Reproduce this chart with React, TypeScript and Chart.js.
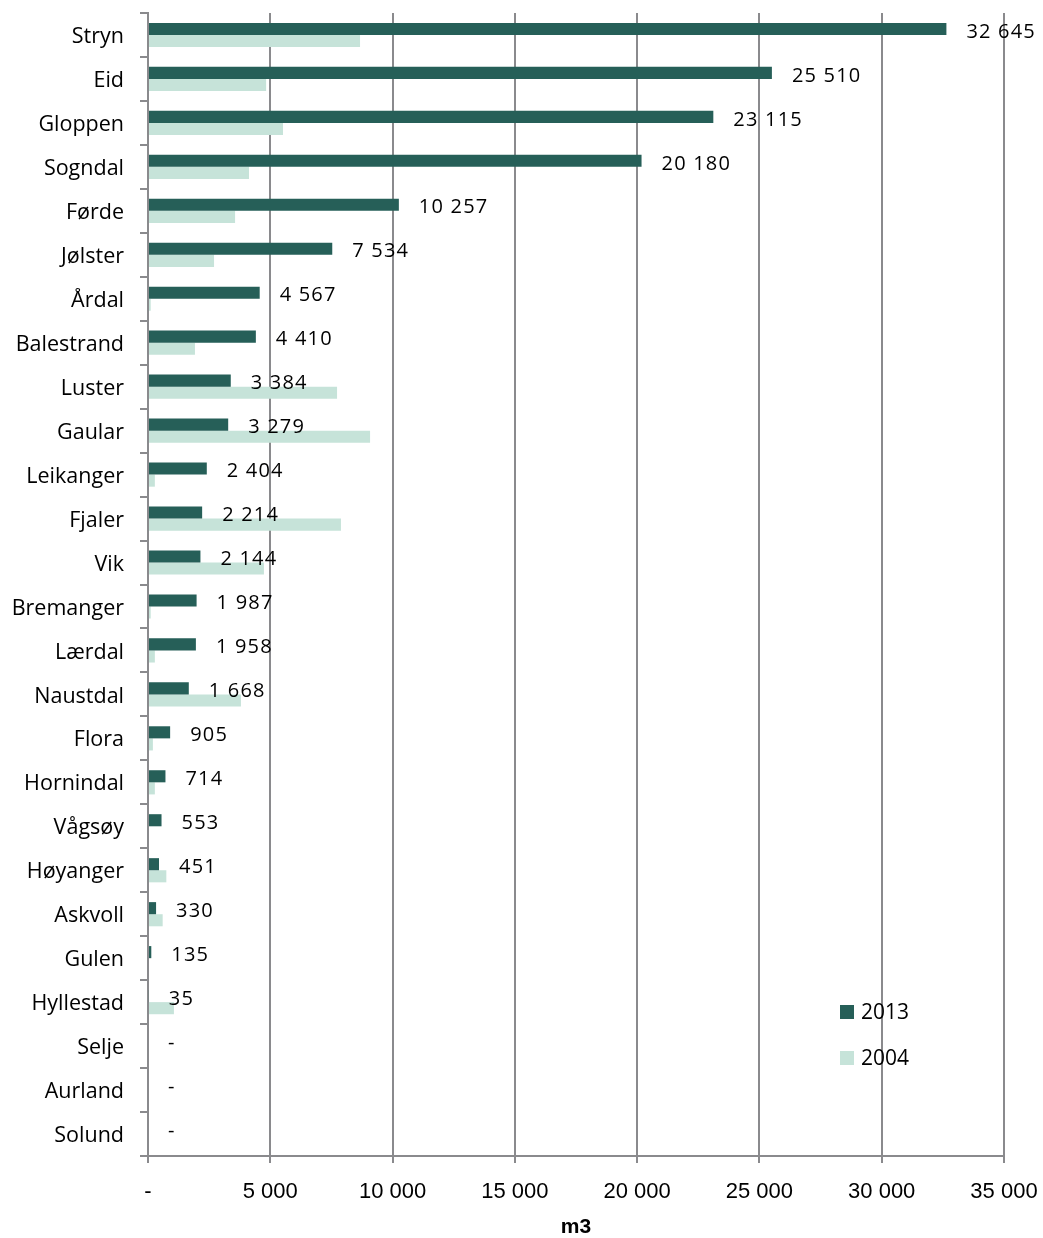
import React, { useEffect, useRef } from 'react';
import { Chart, registerables } from 'chart.js';

Chart.register(...registerables);

const categories = ['Stryn', 'Eid', 'Gloppen', 'Sogndal', 'Førde', 'Jølster', 'Årdal', 'Balestrand', 'Luster', 'Gaular', 'Leikanger', 'Fjaler', 'Vik', 'Bremanger', 'Lærdal', 'Naustdal', 'Flora', 'Hornindal', 'Vågsøy', 'Høyanger', 'Askvoll', 'Gulen', 'Hyllestad', 'Selje', 'Aurland', 'Solund'];
const values2013 = [32645, 25510, 23115, 20180, 10257, 7534, 4567, 4410, 3384, 3279, 2404, 2214, 2144, 1987, 1958, 1668, 905, 714, 553, 451, 330, 135, 35, 0, 0, 0];
const values2004 = [8670, 4830, 5520, 4130, 3560, 2700, 110, 1920, 7730, 9080, 280, 7890, 4740, 110, 280, 3800, 200, 280, 0, 750, 600, 0, 1060, 0, 0, 0];
const seriesLabels = ['2013', '2004'];
const xMin = 0;
const xMax = 35000;
const xStep = 5000;
const xTitle = 'm3';

const DARK = '#265f58';
const LIGHT = '#c6e3d9';
const GRID = '#8a8a8d';
const FONT = "'Open Sans', 'DejaVu Sans', sans-serif";
const NARROW = "'Liberation Sans Narrow', 'Liberation Sans', sans-serif";

const fmt = (v: number) => (v === 0 ? '-' : String(Math.round(v)).replace(/\B(?=(\d{3})+(?!\d))/g, ' '));

const labelPlugin = {
  id: 'valueLabels',
  afterDatasetsDraw(chart: any) {
    const ctx = chart.ctx;
    const meta = chart.getDatasetMeta(0);
    ctx.save();
    ctx.font = `20px ${FONT}`;
    try { ctx.letterSpacing = '1.2px'; } catch (e) {}
    ctx.fillStyle = '#000';
    ctx.textAlign = 'left';
    ctx.textBaseline = 'middle';
    meta.data.forEach((bar: any, i: number) => {
      const v = chart.data.datasets[0].data[i] as number;
      ctx.fillText(fmt(v), bar.x + 20, bar.y + 3);
    });
    ctx.restore();
  },
};

const legendPlugin = {
  id: 'insideLegend',
  afterDraw(chart: any) {
    const ctx = chart.ctx;
    ctx.save();
    ctx.font = `21px ${FONT}`;
    ctx.textBaseline = 'middle';
    ctx.textAlign = 'left';
    const x0 = chart.chartArea.left + 692;
    const ys = [1012, 1058];
    chart.data.datasets.forEach((ds: any, i: number) => {
      ctx.fillStyle = ds.backgroundColor;
      ctx.fillRect(x0, ys[i] - 7, 14, 14);
      ctx.fillStyle = '#000';
      ctx.fillText(ds.label, x0 + 21, ys[i] + 1);
    });
    ctx.restore();
  },
};

export default function App() {
  const ref = useRef<HTMLCanvasElement>(null);
  useEffect(() => {
    document.body.style.margin = '0';
    if (!ref.current) return;
    const chart = new Chart(ref.current, {
      type: 'bar',
      data: {
        labels: categories,
        datasets: [
          { label: seriesLabels[0], data: values2013, backgroundColor: DARK, categoryPercentage: 0.55, barPercentage: 1 },
          { label: seriesLabels[1], data: values2004, backgroundColor: LIGHT, categoryPercentage: 0.55, barPercentage: 1 },
        ],
      },
      options: {
        indexAxis: 'y',
        animation: false,
        responsive: false,
        maintainAspectRatio: false,
        layout: { padding: { top: 13, right: 39, left: 0, bottom: 0 } },
        plugins: { legend: { display: false }, tooltip: { enabled: false } },
        scales: {
          x: {
            min: xMin,
            max: xMax,
            ticks: {
              stepSize: xStep,
              callback: (v: any) => fmt(Number(v)),
              font: { family: NARROW, size: 22 },
              color: '#000',
              padding: 16,
            },
            grid: { color: GRID, lineWidth: 2, tickLength: 7, drawTicks: true },
            border: { color: GRID, width: 2 },
            title: { display: true, text: xTitle, font: { family: NARROW, size: 21, weight: 'bold', lineHeight: 1 }, color: '#000', padding: { top: 4, bottom: 0 } },
            afterFit: (s: any) => { s.height = 82; s.paddingLeft = 0; s.paddingRight = 0; },
          },
          y: {
            ticks: { font: { family: FONT, size: 21.5 }, color: '#000', padding: 16, autoSkip: false, labelOffset: 2 },
            grid: { drawOnChartArea: false, color: GRID, lineWidth: 2, tickLength: 8, offset: true },
            border: { color: GRID, width: 2 },
            afterFit: (s: any) => { s.width = 148; s.paddingTop = 0; s.paddingBottom = 0; },
          },
        },
      },
      plugins: [labelPlugin, legendPlugin],
    });
    return () => chart.destroy();
  }, []);
  return <canvas ref={ref} width={1043} height={1238} style={{ display: 'block' }} />;
}
